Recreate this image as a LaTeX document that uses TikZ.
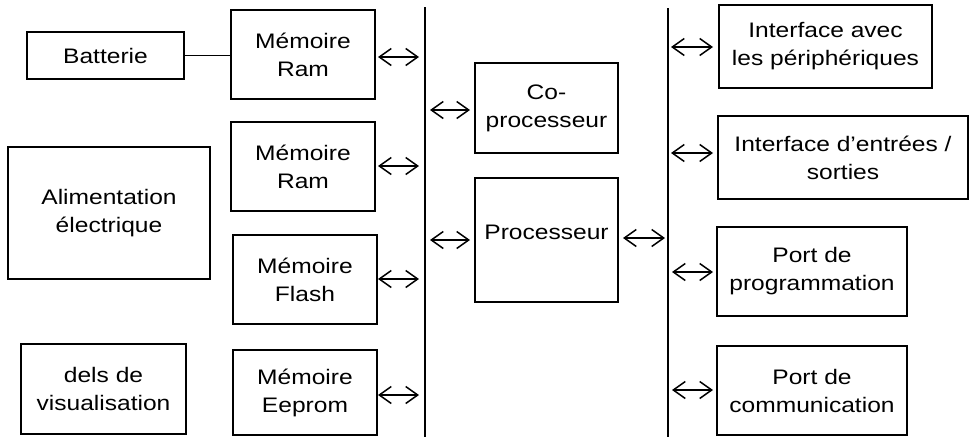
\documentclass[tikz,border=0pt]{standalone}
\usepackage{fontspec}
\setmainfont{Liberation Sans}[FakeStretch=1.17]
\usetikzlibrary{arrows.meta}
\begin{document}
\begin{tikzpicture}[x=1pt,y=-1pt,
  box/.style={draw,line width=1.6pt,rectangle,align=center,inner sep=0pt,
    font=\fontsize{21}{28}\selectfont},
  bus/.style={line width=1.6pt},
  link/.style={line width=1.6pt},
  biarrow/.style={line width=1.5pt,{Straight Barb[length=12pt,width=17pt,line width=1.5pt]}-{Straight Barb[length=12pt,width=17pt,line width=1.5pt]}}]
\useasboundingbox (0,0) rectangle (969,437);
% boxes
\node[box,minimum width=157pt,minimum height=47pt] (bat) at (105.5,55.5) {Batterie};
\node[box,minimum width=144pt,minimum height=89pt] (ram1) at (303,54.5) {Mémoire\\Ram};
\node[box,minimum width=144pt,minimum height=89pt] (ram2) at (303,166.5) {Mémoire\\Ram};
\node[box,minimum width=144pt,minimum height=89pt] (flash) at (305,279.5) {Mémoire\\Flash};
\node[box,minimum width=144pt,minimum height=85pt] (eeprom) at (305,392.5) {Mémoire\\Eeprom};
\node[box,minimum width=202pt,minimum height=132pt] (alim) at (109,213) {Alimentation\\électrique};
\node[box,minimum width=165pt,minimum height=90pt] (dels) at (103.5,389) {dels de\\visualisation};
\node[box,minimum width=143pt,minimum height=90pt] (copro) at (546.5,108) {Co-\\processeur};
\node[box,minimum width=143pt,minimum height=124pt,
  label={[font=\fontsize{21}{28}\selectfont,yshift=8pt]center:Processeur}] (proc) at (546.5,240) {};
\node[box,minimum width=213pt,minimum height=83pt] (if1) at (825.5,46.5) {Interface avec\\les périphériques};
\node[box,minimum width=250pt,minimum height=83pt] (if2) at (843,157.5) {Interface d’entrées /\\sorties};
\node[box,minimum width=190pt,minimum height=89pt] (pprog) at (812,271.5) {Port de\\programmation};
\node[box,minimum width=190pt,minimum height=89pt] (pcom) at (812,390.5) {Port de\\communication};
% battery link
\draw[link] (bat.east) -- (bat.east -| ram1.west);
% buses
\coordinate (busLt) at (425,7);
\coordinate (busLb) at (425,437);
\coordinate (busRt) at (668,8);
\coordinate (busRb) at (668,437);
\draw[bus] (busLt) -- (busLb);
\draw[bus] (busRt) -- (busRb);
% arrows
\coordinate (a1l) at (378,57);  \coordinate (a1r) at (419,57);
\coordinate (a2l) at (378,166); \coordinate (a2r) at (419,166);
\coordinate (a3l) at (378,279); \coordinate (a3r) at (419,279);
\coordinate (a4l) at (378,395); \coordinate (a4r) at (419,395);
\coordinate (a5l) at (430,110); \coordinate (a5r) at (470,110);
\coordinate (a6l) at (430,240); \coordinate (a6r) at (470,240);
\coordinate (a7l) at (623,238); \coordinate (a7r) at (665,238);
\coordinate (a8l) at (671,47);  \coordinate (a8r) at (713,47);
\coordinate (a9l) at (671,153); \coordinate (a9r) at (713,153);
\coordinate (a10l) at (672,272); \coordinate (a10r) at (713,272);
\coordinate (a11l) at (672,390); \coordinate (a11r) at (713,390);
\foreach \i in {1,...,11} {\draw[biarrow] (a\i l) -- (a\i r);}
\end{tikzpicture}
\end{document}
